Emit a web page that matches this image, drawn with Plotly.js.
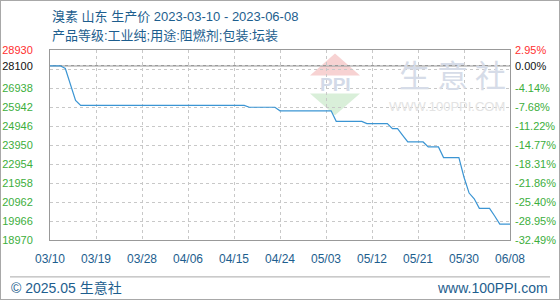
<!DOCTYPE html>
<html>
<head>
<meta charset="utf-8">
<script src="https://cdn.plot.ly/plotly-3.0.1.min.js"></script>
<style>
html,body{margin:0;padding:0;background:#fff;}
#wrap{position:relative;width:560px;height:300px;}
#chart{width:560px;height:300px;}
#frame{position:absolute;left:0;top:0;width:560px;height:300px;box-sizing:border-box;border:1px solid #a8a8a8;pointer-events:none;}
</style>
</head>
<body>
<div id="wrap"><div id="chart"></div><div id="frame"></div></div>
<script>
// ---- data ----
const titleLine1 = '溴素 山东 生产价 2023-03-10 - 2023-06-08';
const titleLine2 = '产品等级:工业纯;用途:阻燃剂;包装:坛装';
const footerLeft = '© 2025.05 生意社';
const footerRight = 'www.100PPI.com';
const dates = ['2023-03-10','2023-03-12','2023-03-13','2023-03-14','2023-03-15','2023-03-16',
  '2023-04-17','2023-04-18','2023-04-23','2023-04-24','2023-05-04','2023-05-05','2023-05-10',
  '2023-05-11','2023-05-15','2023-05-16','2023-05-17','2023-05-18','2023-05-19','2023-05-22',
  '2023-05-23','2023-05-25','2023-05-26','2023-05-29','2023-05-30','2023-05-31','2023-06-01',
  '2023-06-02','2023-06-04','2023-06-05','2023-06-06','2023-06-08'];
const prices = [28100,28100,27960,27130,26290,26030,
  26030,25930,25930,25740,25740,25190,25190,
  25070,25070,24810,24810,24460,24110,24110,
  23850,23850,23290,23290,22260,21430,21130,
  20630,20630,20230,19800,19800];
const basePrice = 28100;
const yMin = 18970, yMax = 28930;
const gridVals = [18970,19966,20962,21958,22954,23950,24946,25942,26938,27934,28930];
const labelVals = [18970,19966,20962,21958,22954,23950,24946,25942,26938,28100,28930];
const xTickVals = ['2023-03-10','2023-03-19','2023-03-28','2023-04-06','2023-04-15','2023-04-24',
  '2023-05-03','2023-05-12','2023-05-21','2023-05-30','2023-06-08'];
const xTickText = ['03/10','03/19','03/28','04/06','04/15','04/24','05/03','05/12','05/21','05/30','06/08'];

// ---- styling ----
const RED = '#ff3030', GREEN = '#3cae3c', BLACK = '#111', BLUE = '#1d5e8e';
function colorFor(v){ return v === yMax ? RED : (v === basePrice ? BLACK : GREEN); }

const leftVals = gridVals.concat([basePrice]).sort((a,b)=>a-b);
const leftText = leftVals.map(v => labelVals.includes(v) ? `<span style="color:${colorFor(v)}">${v}</span>` : '');
const rightText = labelVals.map(v => {
  const p = ((v / basePrice - 1) * 100).toFixed(2) + '%';
  return `<span style="color:${colorFor(v)}">${p}</span>`;
});

const L = 50, R = 510, T = 49.5, B = 240;
const px = x => (x - L) / (R - L);
const py = y => (B - y) / (B - T);

const FONT = 'Liberation Sans, Arial, Noto Sans CJK SC, sans-serif';

const traces = [
  {x: dates, y: prices, type: 'scatter', mode: 'lines', line: {color: '#3b95d3', width: 1.2},
   hoverinfo: 'skip', showlegend: false},
  {x: dates, y: prices, type: 'scatter', mode: 'lines', yaxis: 'y2', line: {color: 'rgba(0,0,0,0)', width: 0},
   hoverinfo: 'skip', showlegend: false}
];

const layout = {
  width: 560, height: 300,
  margin: {l: L, r: 560 - R, t: T, b: 300 - B, pad: 0},
  paper_bgcolor: '#fff', plot_bgcolor: '#fff',
  font: {family: FONT, size: 11, color: BLUE},
  showlegend: false,
  xaxis: {
    type: 'date', range: [dates[0], dates[dates.length-1]],
    tickvals: xTickVals, ticktext: xTickText, ticks: '',
    tickfont: {family: FONT, size: 12, color: BLUE},
    ticklabelstandoff: 8,
    showgrid: true, gridcolor: '#c8c8c8', griddash: '3px,3px', gridwidth: 1,
    showline: true, linecolor: '#999', linewidth: 1, mirror: true, zeroline: false, fixedrange: true
  },
  yaxis: {
    range: [yMin, yMax], tickvals: leftVals, ticktext: leftText, ticks: '',
    tickfont: {family: FONT, size: 11},
    ticklabelstandoff: 14,
    showgrid: true, gridcolor: '#c8c8c8', griddash: '3px,3px', gridwidth: 1,
    showline: true, linecolor: '#999', linewidth: 1, mirror: true, zeroline: false, fixedrange: true
  },
  yaxis2: {
    overlaying: 'y', side: 'right', range: [yMin, yMax],
    tickvals: labelVals, ticktext: rightText, ticks: '',
    tickfont: {family: FONT, size: 11},
    ticklabelstandoff: 4,
    showgrid: false, showline: false, zeroline: false, fixedrange: true
  },
  shapes: [
    {type: 'path', xref: 'paper', yref: 'paper', layer: 'below',
     path: `M ${px(310)} ${py(75)} L ${px(335)} ${py(53)} L ${px(360)} ${py(75)} Z`,
     fillcolor: '#f7d2d2', line: {width: 0}},
    {type: 'path', xref: 'paper', yref: 'paper', layer: 'below',
     path: `M ${px(310)} ${py(93)} L ${px(360)} ${py(93)} L ${px(335)} ${py(115)} Z`,
     fillcolor: '#d9efd9', line: {width: 0}},
    {type: 'line', xref: 'paper', x0: 0, x1: 1, yref: 'y', y0: basePrice, y1: basePrice,
     line: {color: '#9a9a9a', width: 1.5}, layer: 'below'},
    {type: 'line', xref: 'paper', yref: 'paper', x0: px(10), x1: px(550), y0: py(277), y1: py(277),
     line: {color: '#a8a8a8', width: 1}}
  ],
  annotations: [
    {text: titleLine1, xref: 'paper', yref: 'paper', x: 0, y: py(16), xanchor: 'left', yanchor: 'middle',
     showarrow: false, font: {family: FONT, size: 13, color: BLUE}},
    {text: titleLine2, xref: 'paper', yref: 'paper', x: 0, y: py(35), xanchor: 'left', yanchor: 'middle',
     showarrow: false, font: {family: FONT, size: 13, color: BLUE}},
    {text: footerLeft, xref: 'paper', yref: 'paper', x: px(9), y: py(288), xanchor: 'left', yanchor: 'middle',
     showarrow: false, font: {family: FONT, size: 14, color: BLUE}},
    {text: footerRight, xref: 'paper', yref: 'paper', x: px(550), y: py(288), xanchor: 'right', yanchor: 'middle',
     showarrow: false, font: {family: FONT, size: 14, color: BLUE}},
    {text: '<b>PPI</b>', xref: 'paper', yref: 'paper', x: px(335), y: py(84), xanchor: 'center', yanchor: 'middle',
     showarrow: false, font: {family: FONT, size: 19, color: '#d3dae8'}},
    {text: '生 意 社', xref: 'paper', yref: 'paper', x: px(452), y: py(73), xanchor: 'center', yanchor: 'middle',
     showarrow: false, font: {family: 'Noto Sans CJK SC, sans-serif', size: 31, color: '#d6dce8'}},
    {text: 'WWW.100PPI.COM', xref: 'paper', yref: 'paper', x: px(447), y: py(106), xanchor: 'center', yanchor: 'middle',
     showarrow: false, font: {family: FONT, size: 13, color: '#e3e3e3'}}
  ]
};

Plotly.newPlot('chart', traces, layout, {displayModeBar: false, staticPlot: true});
</script>
</body>
</html>
